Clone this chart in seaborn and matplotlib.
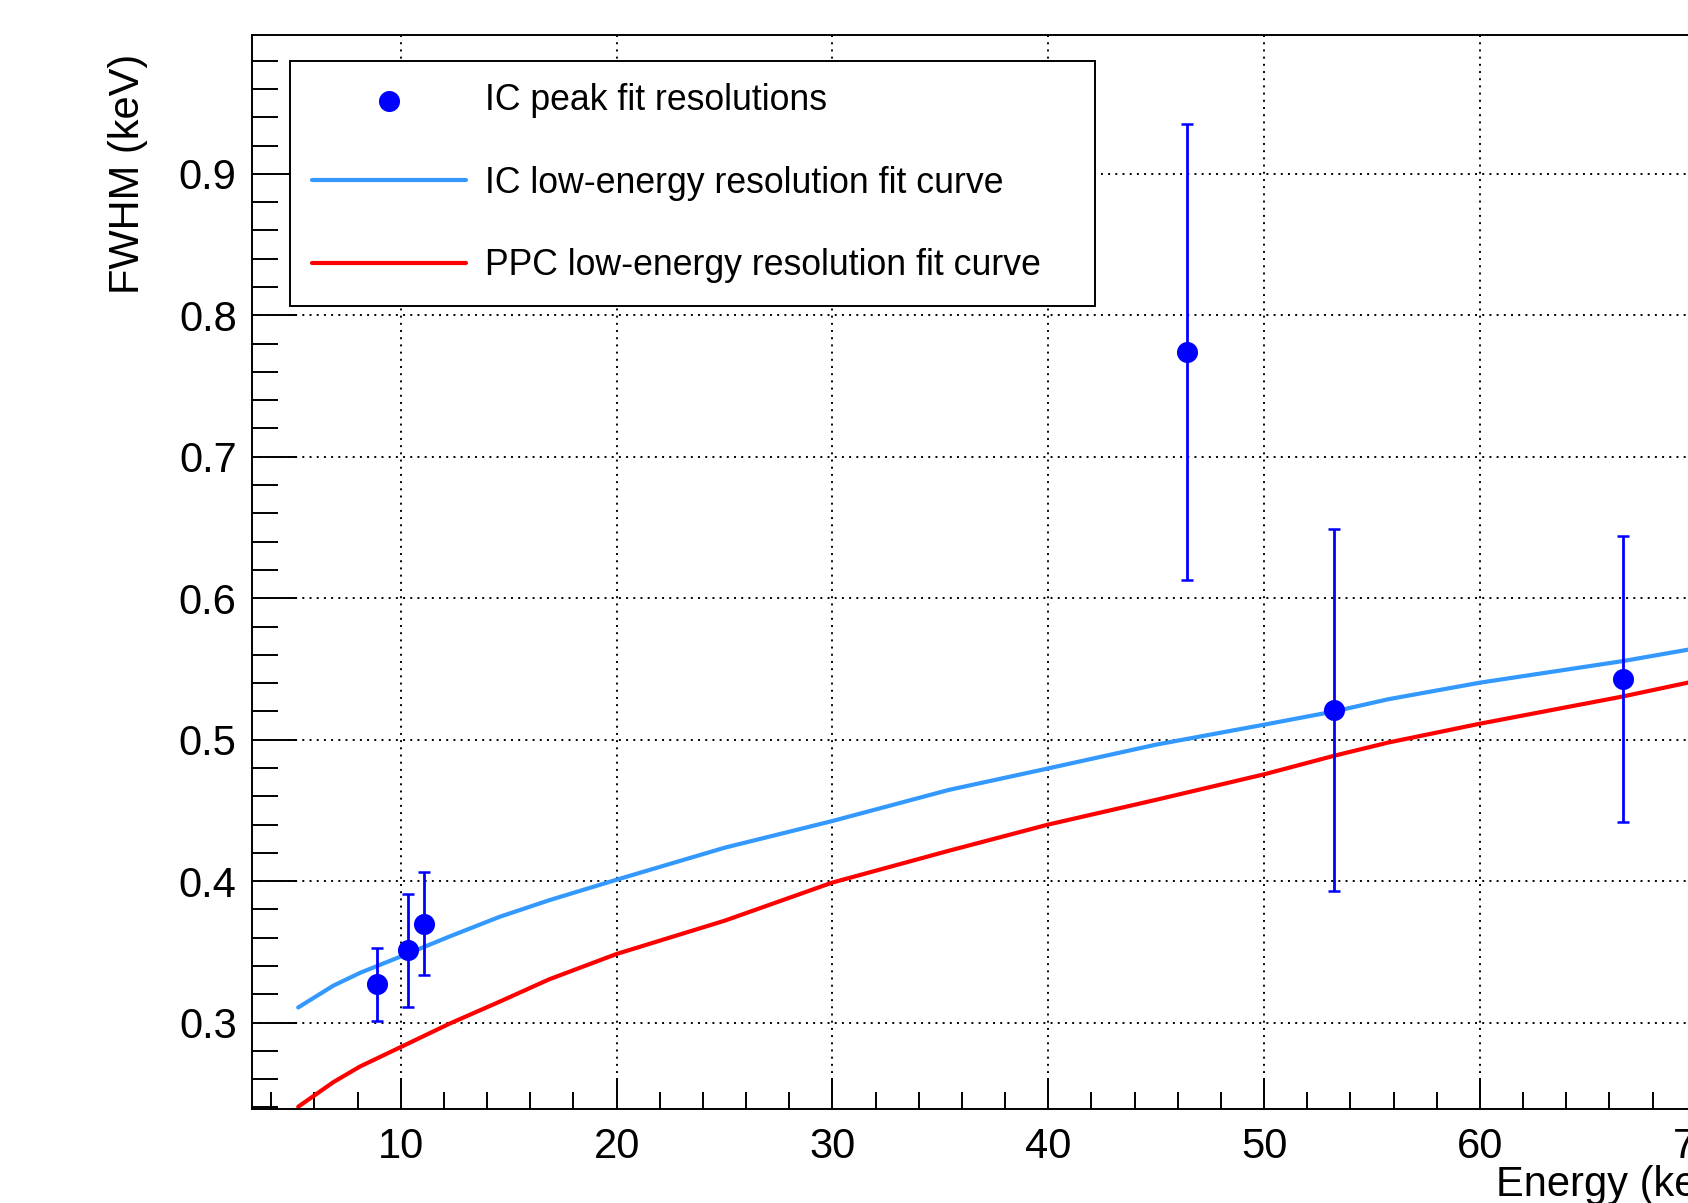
import matplotlib
matplotlib.use("Agg")
import matplotlib.pyplot as plt
from matplotlib.ticker import MultipleLocator
import numpy as np
import pandas as pd
import seaborn as sns

# IC peak fit resolutions
peak_energy = [8.92, 10.34, 11.07, 46.43, 53.26, 66.64]
peak_fwhm = [0.327, 0.351, 0.370, 0.774, 0.521, 0.543]
peak_err = [0.026, 0.040, 0.0365, 0.161, 0.128, 0.101]

# fit curves
curve_energy = [5.25, 6.89, 8.12, 10.0, 12.27, 14.57, 16.88, 20.0, 25.0, 30.0,
                35.4, 40.0, 45.0, 50.0, 53.26, 55.76, 60.0, 66.64, 69.63, 71.5]
ic_fwhm = [0.3107, 0.3262, 0.3352, 0.3467, 0.3609, 0.3747, 0.3865, 0.401, 0.4236, 0.4425,
           0.4645, 0.4797, 0.4965, 0.5106, 0.520, 0.5286, 0.5403, 0.5556, 0.5636, 0.568]
ppc_fwhm = [0.2405, 0.2580, 0.2690, 0.2827, 0.2993, 0.3147, 0.3306, 0.3485, 0.372, 0.399,
            0.4215, 0.4400, 0.4575, 0.4755, 0.4887, 0.498, 0.5113, 0.5306, 0.5403, 0.545]

sns.set_style("white")
plt.rcParams['font.family'] = ['Liberation Sans', 'DejaVu Sans']
plt.rcParams['text.color'] = 'black'
plt.rcParams['axes.labelcolor'] = 'black'

peaks = pd.DataFrame({'energy': peak_energy, 'fwhm': peak_fwhm, 'err': peak_err})
curves = pd.DataFrame({'energy': curve_energy, 'ic': ic_fwhm, 'ppc': ppc_fwhm})

fig = plt.figure(figsize=(16.88, 12.03), dpi=100)
# axes run past the right edge, as in the cropped original
ax = fig.add_axes([0.14929, 0.07789, 0.88092, 0.89343])

sns.scatterplot(data=peaks, x='energy', y='fwhm', color='#0000ff', s=230, linewidth=0,
                zorder=4, label='IC peak fit resolutions', ax=ax)
ax.errorbar(peaks['energy'], peaks['fwhm'], yerr=peaks['err'], fmt='none', ecolor='#0000ff',
            elinewidth=2.0, capsize=4.6, capthick=1.8, zorder=3)
sns.lineplot(data=curves, x='energy', y='ic', color='#3399ff', lw=3.0,
             label='IC low-energy resolution fit curve', ax=ax, zorder=2)
sns.lineplot(data=curves, x='energy', y='ppc', color='#ff0000', lw=3.0,
             label='PPC low-energy resolution fit curve', ax=ax, zorder=2)

ax.set_xlim(3.11, 72.0)
ax.set_ylim(0.2387, 0.9985)
ax.xaxis.set_major_locator(MultipleLocator(10))
ax.xaxis.set_minor_locator(MultipleLocator(2))
ax.yaxis.set_major_locator(MultipleLocator(0.1))
ax.yaxis.set_minor_locator(MultipleLocator(0.02))

ax.grid(True, which='major', color='black', lw=1.4, linestyle=(0, (1.0, 2.7)))
ax.set_axisbelow(True)

ax.tick_params(axis='both', which='both', direction='in', width=1.4, colors='black',
               labelsize=30, bottom=True, left=True, top=False, right=False)
ax.tick_params(axis='y', which='major', length=32.4, pad=11)
ax.tick_params(axis='y', which='minor', length=18.4)
ax.tick_params(axis='x', which='major', length=22.3, pad=13)
ax.tick_params(axis='x', which='minor', length=12.2)
for sp in ax.spines.values():
    sp.set_visible(True)
    sp.set_color('black')
    sp.set_linewidth(1.4)

ax.set_xlabel('Energy (keV)', fontsize=30, loc='right')
ax.xaxis.set_label_coords(1.0, -0.0518)
ax.set_ylabel('FWHM (keV)', fontsize=30, loc='top')
ax.yaxis.set_label_coords(-0.0699, 0.9824)

handles, labels = ax.get_legend_handles_labels()
leg = ax.legend(handles, labels, loc='upper left', mode='expand',
                bbox_to_anchor=(290 / 1688, (1203 - 303) / 1203, 805 / 1688, 242 / 1203),
                bbox_transform=fig.transFigure, borderaxespad=0, fontsize=25.7,
                frameon=True, fancybox=False, framealpha=1, edgecolor='black',
                borderpad=0.62, labelspacing=1.335, handlelength=4.3, handletextpad=0.55)
leg.get_frame().set_linewidth(1.4)
for t in leg.get_texts():
    t.set_color('black')

fig.savefig('out.png', dpi=100)
